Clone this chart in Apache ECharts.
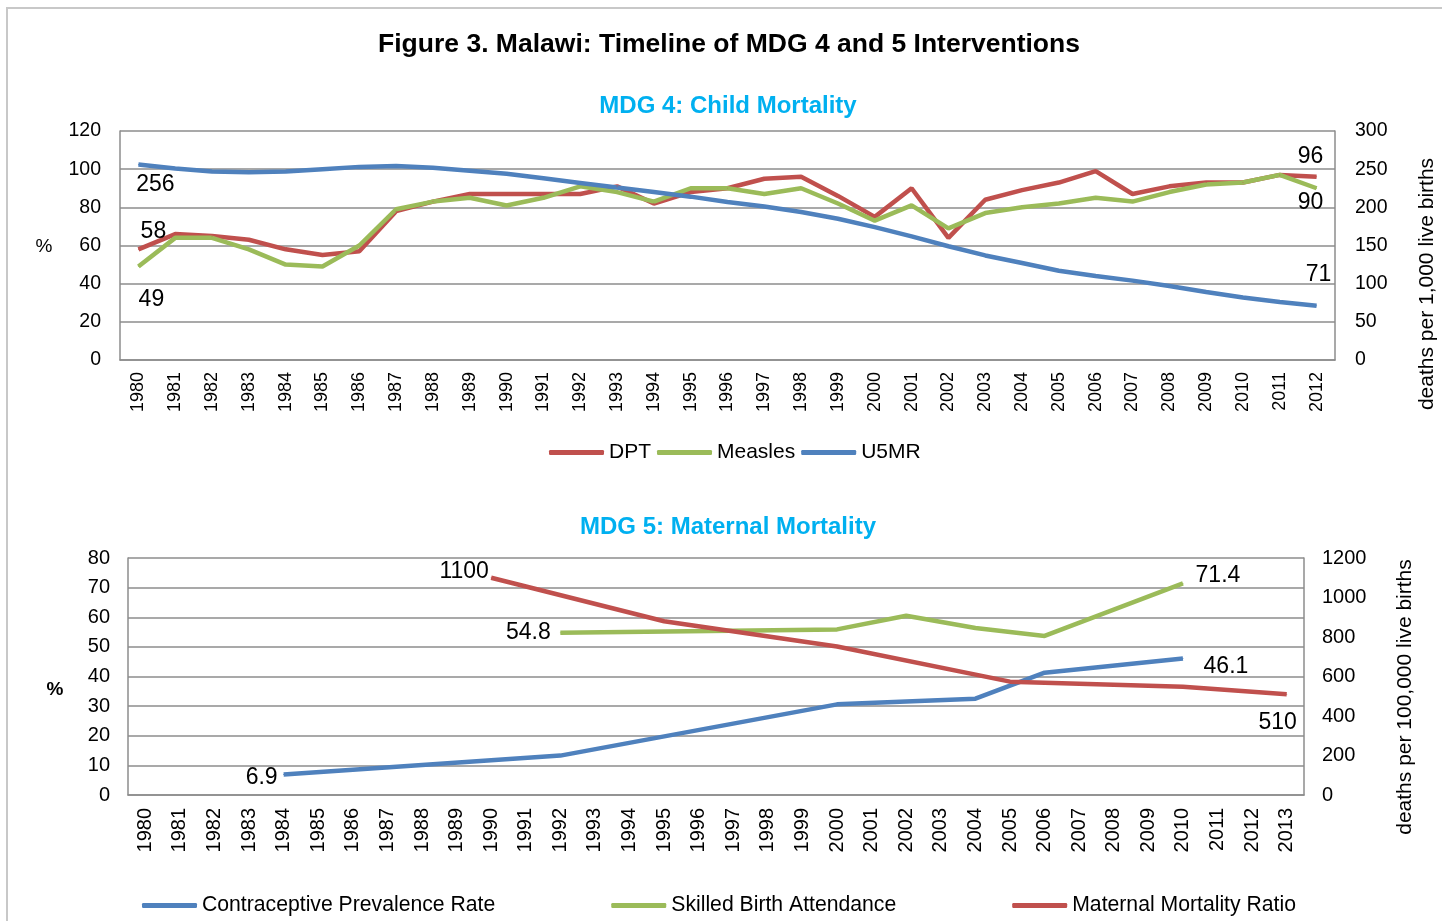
<!DOCTYPE html>
<html>
<head>
<meta charset="utf-8">
<script src="https://cdn.jsdelivr.net/npm/echarts@6/dist/echarts.min.js"></script>
<style>
html,body{margin:0;padding:0;background:#fff;}
#c{width:1442px;height:921px;}
</style>
</head>
<body>
<div id="c"></div>
<script>
// ---------- DATA ----------
const years4 = ['1980','1981','1982','1983','1984','1985','1986','1987','1988','1989','1990','1991','1992','1993','1994','1995','1996','1997','1998','1999','2000','2001','2002','2003','2004','2005','2006','2007','2008','2009','2010','2011','2012'];
const dpt     = [58,66,65,63,58,55,57,78,83,87,87,87,87,91,82,88,90,95,96,86,75,90,64,84,89,93,99,87,91,93,93,97,96];
const measles = [49,64,64,58,50,49,60,79,83,85,81,85,91,88,83,90,90,87,90,82,73,81,69,77,80,82,85,83,88,92,93,97,90];
const u5mr    = [256,251,247,246,247,250,253,254,252,248,244,238,232,226,220,214,207,201,194,185,174,162,149,137,127,117,110,104,97,89,82,76,71];

const years5 = ['1980','1981','1982','1983','1984','1985','1986','1987','1988','1989','1990','1991','1992','1993','1994','1995','1996','1997','1998','1999','2000','2001','2002','2003','2004','2005','2006','2007','2008','2009','2010','2011','2012','2013'];
const cpr = [null,null,null,null,6.9,null,null,null,null,null,null,null,13.3,null,null,null,null,null,null,null,30.6,null,null,null,32.5,null,41.3,null,null,null,46.1,null,null,null];
const sba = [null,null,null,null,null,null,null,null,null,null,null,null,54.8,null,null,null,null,null,null,null,55.9,null,60.5,null,56.4,null,53.7,null,null,null,71.4,null,null,null];
const mmr = [null,null,null,null,null,null,null,null,null,null,1100,null,null,null,null,880,null,null,null,null,752,null,null,null,null,574,null,null,null,null,548,null,null,510];

const ticksPct4 = [0,20,40,60,80,100,120];
const ticksU5 = [0,50,100,150,200,250,300];
const ticksPct5 = [0,10,20,30,40,50,60,70,80];
const ticksMMR = [0,200,400,600,800,1000,1200];

// ---------- STYLE ----------
const FF = '"Liberation Sans", Arial, sans-serif';
const C_RED = '#C0504D', C_GREEN = '#9BBB59', C_BLUE = '#4F81BD';
const GRID_C = '#8c8c8c';

function withLabels(arr, labels) {
  return arr.map((v, i) => {
    if (labels[i] && v != null) {
      return { value: v, label: { show: true, position: 'inside', offset: labels[i], fontSize: 23, color: '#000', fontFamily: FF } };
    }
    return v;
  });
}
function lbl(entries){ const o = {}; entries.forEach(e => o[e[0]] = e[1]); return o; }

function lineSeries(name, color, data, xi, yi, connect) {
  return {
    name, type: 'line', xAxisIndex: xi, yAxisIndex: yi, data,
    connectNulls: !!connect,
    symbol: 'circle', symbolSize: 1, showSymbol: true, showAllSymbol: true,
    itemStyle: { color }, lineStyle: { color, width: 4.5 },
    label: { show: false }, emphasis: { disabled: true }, z: 3
  };
}

function yAx(gi, ticks, pos, fs, margin) {
  return {
    type: 'value', gridIndex: gi, position: pos, min: ticks[0], max: ticks[ticks.length - 1],
    interval: ticks[1] - ticks[0],
    axisLine: { show: true, lineStyle: { color: GRID_C, width: 1.5 } },
    axisTick: { show: false },
    axisLabel: { fontSize: fs, color: '#000', fontFamily: FF, margin, formatter: v => String(v) },
    splitLine: { show: pos === 'left', lineStyle: { color: GRID_C, width: 1.5 } }
  };
}
function xAx(gi, cats, fs, margin) {
  return {
    type: 'category', gridIndex: gi, data: cats, boundaryGap: true,
    axisLine: { show: true, lineStyle: { color: GRID_C, width: 1.5 } },
    axisTick: { show: false },
    axisLabel: { rotate: 90, fontSize: fs, color: '#000', fontFamily: FF, margin, interval: 0 },
    splitLine: { show: false }
  };
}
function gText(text, x, y, fs, bold, rot) {
  return { type: 'text', x, y, rotation: rot || 0, silent: true,
    style: { text, fontSize: fs, fontFamily: FF, fontWeight: bold ? 'bold' : 'normal', fill: '#000', align: 'center', verticalAlign: 'middle' } };
}

const chart = echarts.init(document.getElementById('c'), null, { renderer: 'canvas' });
chart.setOption({
  animation: false,
  backgroundColor: '#fff',
  graphic: [
    { type: 'rect', shape: { x: 7, y: 8, width: 1460, height: 940 }, style: { fill: 'none', stroke: '#c8c8c8', lineWidth: 2 }, silent: true },
    gText('%', 44, 247, 19, false),
    gText('%', 55, 690, 19, true),
    gText('deaths per 1,000 live births', 1427, 284, 21, false, Math.PI / 2),
    gText('deaths per 100,000 live births', 1405, 697, 21, false, Math.PI / 2)
  ],
  title: [
    { text: 'Figure 3. Malawi: Timeline of MDG 4 and 5 Interventions', left: 724, top: 26, textAlign: 'center',
      textStyle: { fontSize: 26.5, fontWeight: 'bold', color: '#000', fontFamily: FF } },
    { text: 'MDG 4: Child Mortality', left: 723, top: 89, textAlign: 'center',
      textStyle: { fontSize: 24, fontWeight: 'bold', color: '#00B0F0', fontFamily: FF } },
    { text: 'MDG 5: Maternal Mortality', left: 723, top: 510, textAlign: 'center',
      textStyle: { fontSize: 24, fontWeight: 'bold', color: '#00B0F0', fontFamily: FF } }
  ],
  legend: [
    { data: ['DPT', 'Measles', 'U5MR'], left: 544, top: 437, icon: 'roundRect', itemWidth: 55, itemHeight: 5, itemGap: 6,
      textStyle: { fontSize: 21, color: '#000', fontFamily: FF } },
    { data: ['Contraceptive Prevalence Rate', 'Skilled Birth Attendance', 'Maternal Mortality Ratio'], left: 137, top: 890,
      icon: 'roundRect', itemWidth: 55, itemHeight: 5, itemGap: 116,
      textStyle: { fontSize: 21.2, color: '#000', fontFamily: FF } }
  ],
  grid: [
    { left: 120, right: 107, top: 131, height: 229, containLabel: false },
    { left: 128, right: 138, top: 558, height: 237, containLabel: false }
  ],
  xAxis: [xAx(0, years4, 18, 12), xAx(1, years5, 20, 13)],
  yAxis: [
    yAx(0, ticksPct4, 'left', 19.5, 19),
    yAx(0, ticksU5, 'right', 19.5, 20),
    yAx(1, ticksPct5, 'left', 20, 18),
    yAx(1, ticksMMR, 'right', 20, 18)
  ],
  series: [
    lineSeries('DPT', C_RED, withLabels(dpt, lbl([[0, [15, -18]], [32, [-6, -20]]])), 0, 0),
    lineSeries('Measles', C_GREEN, withLabels(measles, lbl([[0, [13, 33]], [32, [-6, 14]]])), 0, 0),
    lineSeries('U5MR', C_BLUE, withLabels(u5mr, lbl([[0, [17, 20]], [32, [2, -31]]])), 0, 1),
    lineSeries('Contraceptive Prevalence Rate', C_BLUE, withLabels(cpr, lbl([[4, [-22, 3]], [30, [43, 8]]])), 1, 2, true),
    lineSeries('Skilled Birth Attendance', C_GREEN, withLabels(sba, lbl([[12, [-32, 0]], [30, [35, -8]]])), 1, 2, true),
    lineSeries('Maternal Mortality Ratio', C_RED, withLabels(mmr, lbl([[10, [-27, -6]], [33, [-9, 28]]])), 1, 3, true)
  ]
});
</script>
</body>
</html>
